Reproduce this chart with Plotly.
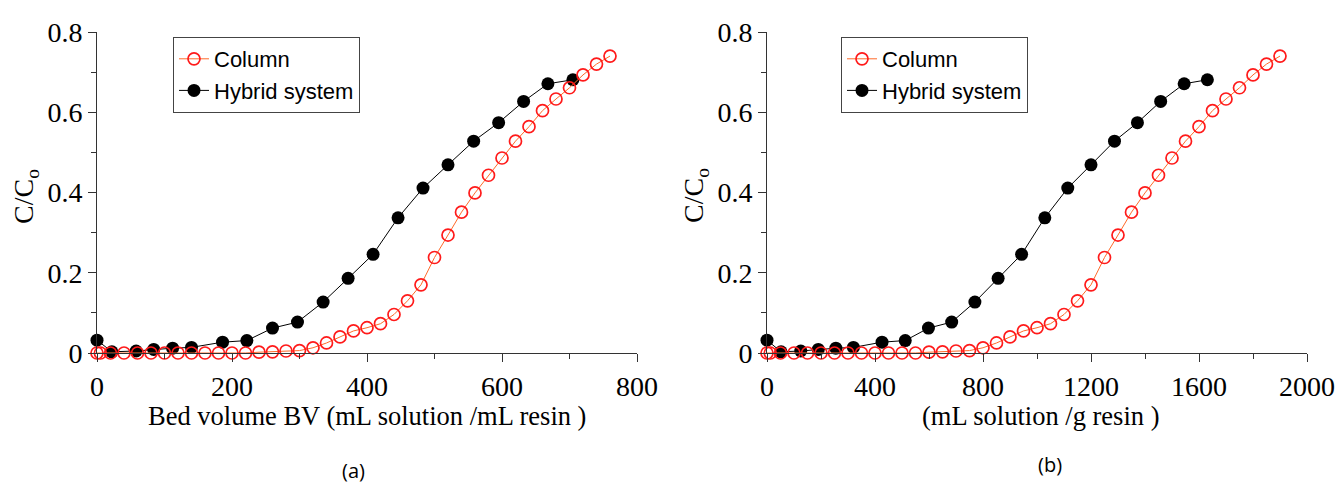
import plotly.graph_objects as go

# Breakthrough data: C/Co versus throughput
# Column operation (bed volumes, and mL solution per g resin)
column_bv = [0, 5, 20, 40, 60, 80, 100, 120, 140, 160, 180, 200, 220, 240, 260, 280,
             300, 320, 340, 360, 380, 400, 420, 440, 460, 480, 500, 520, 540, 560,
             580, 600, 620, 640, 660, 680, 700, 720, 740, 760]
column_vg = [0, 12, 50, 100, 150, 200, 250, 300, 350, 400, 450, 500, 550, 600, 650, 700,
             750, 800, 850, 900, 950, 1000, 1050, 1100, 1150, 1200, 1250, 1300, 1350, 1400,
             1450, 1500, 1550, 1600, 1650, 1700, 1750, 1800, 1850, 1900]
column_c = [0.0, 0.0, 0.0, 0.0, 0.0, 0.0, 0.0, 0.0, 0.0, 0.0, 0.0, 0.0, 0.0, 0.002, 0.003,
            0.005, 0.006, 0.013, 0.025, 0.040, 0.055, 0.063, 0.073, 0.096, 0.130, 0.170,
            0.238, 0.294, 0.351, 0.399, 0.443, 0.486, 0.528, 0.564, 0.604, 0.633, 0.661,
            0.693, 0.720, 0.740]

# Hybrid system
hybrid_bv = [0, 22, 58, 84, 112, 140, 186, 222, 260, 297, 335, 372, 409, 446, 483, 520,
             558, 595, 632, 668, 705]
hybrid_vg = [0, 52, 125, 190, 255, 320, 426, 512, 598, 684, 770, 856, 943, 1029, 1114, 1200,
             1287, 1372, 1458, 1545, 1631]
hybrid_c = [0.032, 0.003, 0.005, 0.009, 0.012, 0.014, 0.027, 0.031, 0.062, 0.077, 0.127,
            0.186, 0.246, 0.337, 0.411, 0.469, 0.528, 0.574, 0.627, 0.671, 0.681]

y_ticks = [0, 0.2, 0.4, 0.6, 0.8]
y_tick_text = ["0", "0.2", "0.4", "0.6", "0.8"]
x_ticks_a = [0, 200, 400, 600, 800]
x_ticks_b = [0, 400, 800, 1200, 1600, 2000]

W, H = 1336, 483
SERIF = "Liberation Serif, Times New Roman, serif"
SANS = "Liberation Sans, Arial, sans-serif"
CAPTION = "Open Sans, Noto Sans, sans-serif"
AXIS_COLOR = "#333333"

fig = go.Figure()

panels = [
    ("x", "y", "legend", hybrid_bv, column_bv),
    ("x2", "y2", "legend2", hybrid_vg, column_vg),
]
for xa, ya, leg, hx, cx in panels:
    fig.add_trace(go.Scatter(
        x=hx, y=hybrid_c, xaxis=xa, yaxis=ya, name="Hybrid system",
        mode="lines+markers", legend=leg, legendrank=2, cliponaxis=False,
        line=dict(color="black", width=1),
        marker=dict(symbol="circle", size=13, color="black"),
    ))
    fig.add_trace(go.Scatter(
        x=cx, y=column_c, xaxis=xa, yaxis=ya, name="Column",
        mode="lines+markers", legend=leg, legendrank=1, cliponaxis=False,
        line=dict(color="#ff6a2a", width=1),
        marker=dict(symbol="circle-open", size=12, color="#ff1a1a",
                    line=dict(width=1.7, color="#ff1a1a")),
    ))

y_dom = [1 - 353 / H, 1 - 32 / H]


def xaxis_cfg(dom, rng, ticks, minor_dtick, anchor):
    return dict(
        domain=dom, range=rng, anchor=anchor, tickmode="array", tickvals=ticks,
        showline=True, linecolor=AXIS_COLOR, linewidth=1, mirror=False,
        ticks="outside", ticklen=8, tickcolor=AXIS_COLOR, tickwidth=1,
        minor=dict(ticks="outside", ticklen=5, tickcolor=AXIS_COLOR,
                   tick0=0, dtick=minor_dtick, showgrid=False),
        showgrid=False, zeroline=False, automargin=False,
        tickfont=dict(family=SERIF, size=28, color="black"),
    )


def yaxis_cfg(anchor):
    return dict(
        domain=y_dom, range=[0, 0.8], anchor=anchor, tickmode="array",
        tickvals=y_ticks, ticktext=y_tick_text,
        showline=True, linecolor=AXIS_COLOR, linewidth=1, mirror=False,
        ticks="outside", ticklen=8, tickcolor=AXIS_COLOR, tickwidth=1,
        minor=dict(ticks="outside", ticklen=5, tickcolor=AXIS_COLOR,
                   tick0=0, dtick=0.1, showgrid=False),
        showgrid=False, zeroline=False, automargin=False,
        tickfont=dict(family=SERIF, size=28, color="black"),
    )


legend_style = dict(
    xanchor="left", yanchor="top", y=1 - 37 / H,
    bgcolor="white", bordercolor="#444444", borderwidth=1,
    font=dict(family=SANS, size=22, color="black"),
    traceorder="normal", itemwidth=30,
)

fig.update_layout(
    width=W, height=H,
    margin=dict(l=0, r=0, t=0, b=0),
    paper_bgcolor="white", plot_bgcolor="white",
    template="none",
    xaxis=xaxis_cfg([97 / W, 637 / W], [0, 800], x_ticks_a, 100, "y"),
    yaxis=yaxis_cfg("x"),
    xaxis2=xaxis_cfg([767 / W, 1307 / W], [0, 2000], x_ticks_b, 200, "y2"),
    yaxis2=yaxis_cfg("x2"),
    legend=dict(x=173 / W, **legend_style),
    legend2=dict(x=841 / W, **legend_style),
)

# Axis titles and panel captions
notes = [
    dict(text="C/C<sub>o</sub>", x=25 / W, y=1 - 196 / H, textangle=-90,
         font=dict(family=SERIF, size=28)),
    dict(text="C/C<sub>o</sub>", x=695 / W, y=1 - 196 / H, textangle=-90,
         font=dict(family=SERIF, size=28)),
    dict(text="Bed volume BV (mL solution /mL resin )", x=367 / W, y=1 - 416 / H,
         font=dict(family=SERIF, size=26.5)),
    dict(text="(mL solution /g resin )", x=1041 / W, y=1 - 416 / H,
         font=dict(family=SERIF, size=26.5)),
    dict(text="(a)", x=353 / W, y=1 - 470 / H, font=dict(family=CAPTION, size=20)),
    dict(text="(b)", x=1050 / W, y=1 - 464 / H, font=dict(family=CAPTION, size=20)),
]
for n in notes:
    fig.add_annotation(xref="paper", yref="paper", showarrow=False,
                       xanchor="center", yanchor="middle",
                       **{k: v for k, v in n.items() if k != "font"},
                       font=dict(color="black", **n["font"]))

fig.write_html("out.html")
